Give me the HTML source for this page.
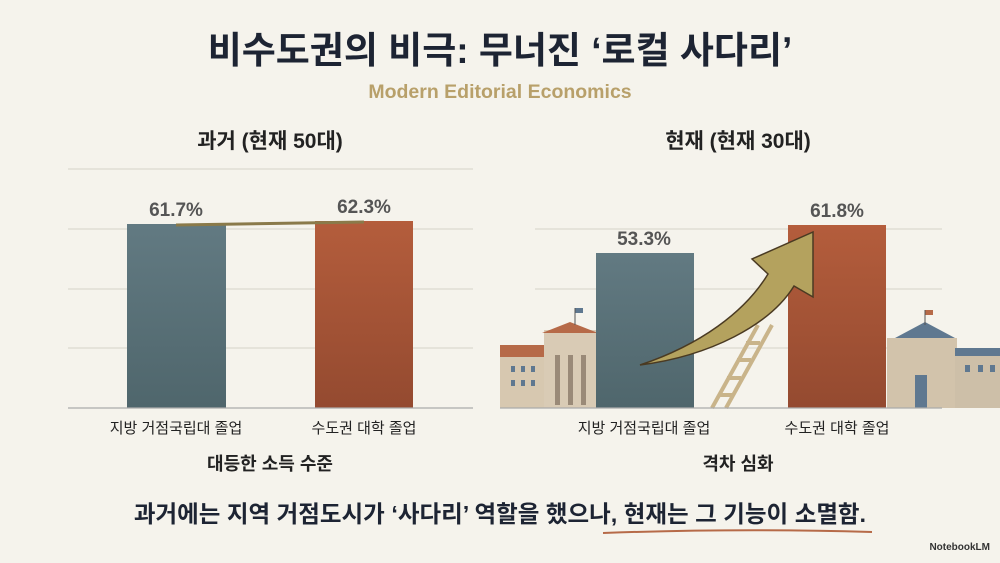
<!DOCTYPE html>
<html><head><meta charset="utf-8"><style>
body{margin:0;width:1000px;height:558px;background:#f5f3ec;font-family:"Liberation Sans","Noto Sans CJK KR",sans-serif;overflow:hidden}
</style></head><body>
<svg width="1000" height="558" viewBox="0 0 1000 558" xmlns="http://www.w3.org/2000/svg" font-family="Liberation Sans, Noto Sans CJK KR, sans-serif">
<defs>
<linearGradient id="b" x1="0" y1="0" x2="0" y2="1"><stop offset="0" stop-color="#627a82"/><stop offset="1" stop-color="#4f666c"/></linearGradient>
<linearGradient id="o" x1="0" y1="0" x2="0" y2="1"><stop offset="0" stop-color="#b45d3c"/><stop offset="1" stop-color="#944a30"/></linearGradient>
</defs>
<text x="500" y="63" text-anchor="middle" font-size="37" font-weight="bold" fill="#1d2433">비수도권의 비극: 무너진 ‘로컬 사다리’</text>
<text x="500" y="98" text-anchor="middle" font-size="19.5" font-weight="bold" fill="#b8a06a">Modern Editorial Economics</text>
<text x="270" y="148" text-anchor="middle" font-size="21" font-weight="bold" fill="#222">과거 (현재 50대)</text>
<text x="738" y="148" text-anchor="middle" font-size="21" font-weight="bold" fill="#222">현재 (현재 30대)</text>
<g stroke="#dcd9d0" stroke-width="1.2">
<line x1="68" y1="169" x2="473" y2="169"/><line x1="68" y1="229" x2="473" y2="229"/><line x1="68" y1="289" x2="473" y2="289"/><line x1="68" y1="348" x2="473" y2="348"/>
<line x1="535" y1="229" x2="942" y2="229"/><line x1="535" y1="289" x2="942" y2="289"/><line x1="535" y1="348" x2="942" y2="348"/>
</g>
<g>
<rect x="500" y="345" width="45" height="63" fill="#d7c8b0"/><rect x="500" y="345" width="45" height="12" fill="#b66a48"/>
<rect x="544" y="330" width="52" height="78" fill="#d9cbb5"/><polygon points="542,333 570,322 598,333" fill="#b66a48"/>
<rect x="555" y="355" width="5" height="50" fill="#9a8a78"/><rect x="568" y="355" width="5" height="50" fill="#9a8a78"/><rect x="581" y="355" width="5" height="50" fill="#9a8a78"/>
<rect x="575" y="308" width="8" height="5" fill="#5f7890"/><line x1="575" y1="308" x2="575" y2="325" stroke="#555"/>
<rect x="511" y="366" width="4" height="6" fill="#5f7890"/><rect x="521" y="366" width="4" height="6" fill="#5f7890"/><rect x="531" y="366" width="4" height="6" fill="#5f7890"/>
<rect x="511" y="380" width="4" height="6" fill="#5f7890"/><rect x="521" y="380" width="4" height="6" fill="#5f7890"/><rect x="531" y="380" width="4" height="6" fill="#5f7890"/>
<rect x="887" y="338" width="70" height="70" fill="#d2c3ab"/><polygon points="895,338 925,322 955,338" fill="#5f7890"/>
<rect x="955" y="348" width="45" height="60" fill="#cdbfa8"/><rect x="955" y="348" width="45" height="8" fill="#5f7890"/>
<rect x="915" y="375" width="12" height="33" fill="#5f7890"/>
<rect x="925" y="310" width="8" height="5" fill="#b66a48"/><line x1="925" y1="310" x2="925" y2="325" stroke="#555"/>
<rect x="965" y="365" width="5" height="7" fill="#5f7890"/><rect x="978" y="365" width="5" height="7" fill="#5f7890"/><rect x="990" y="365" width="5" height="7" fill="#5f7890"/>
</g>
<g stroke="#c9b48a" stroke-width="4" fill="none">
<line x1="712" y1="408" x2="758" y2="325"/><line x1="726" y1="408" x2="772" y2="325"/>
<line x1="718" y1="395" x2="732" y2="395"/><line x1="727" y1="378" x2="741" y2="378"/><line x1="737" y1="360" x2="751" y2="360"/><line x1="746" y1="343" x2="760" y2="343"/>
</g>
<rect x="127" y="224" width="99" height="184" fill="url(#b)"/>
<rect x="315" y="221" width="98" height="187" fill="url(#o)"/>
<rect x="596" y="253" width="98" height="155" fill="url(#b)"/>
<rect x="788" y="225" width="98" height="183" fill="url(#o)"/>
<line x1="68" y1="408" x2="473" y2="408" stroke="#aaa" stroke-width="1.2"/>
<line x1="500" y1="408" x2="942" y2="408" stroke="#aaa" stroke-width="1.2"/>
<line x1="176" y1="225" x2="364" y2="222" stroke="#8a7a4a" stroke-width="3"/>
<path d="M640,365 C700,345 745,312 768,274 L752,259 L813,232 L813,297 L794,286 C770,325 710,356 640,365 Z" fill="#b4a25e" stroke="#4a3a22" stroke-width="1.5"/>
<g font-size="19" font-weight="bold" fill="#555" text-anchor="middle">
<text x="176" y="216">61.7%</text><text x="364" y="213">62.3%</text>
<text x="644" y="245">53.3%</text><text x="837" y="217">61.8%</text>
</g>
<g font-size="15" fill="#222" text-anchor="middle">
<text x="176" y="433">지방 거점국립대 졸업</text><text x="364" y="433">수도권 대학 졸업</text>
<text x="644" y="433">지방 거점국립대 졸업</text><text x="837" y="433">수도권 대학 졸업</text>
</g>
<g font-size="18" font-weight="bold" fill="#222" text-anchor="middle">
<text x="270" y="470">대등한 소득 수준</text><text x="738" y="470">격차 심화</text>
</g>
<text x="500" y="522" text-anchor="middle" font-size="23.5" font-weight="bold" fill="#1d2433">과거에는 지역 거점도시가 ‘사다리’ 역할을 했으나, 현재는 그 기능이 소멸함.</text>
<path d="M603,533 Q740,528 872,532" stroke="#b66a48" stroke-width="2" fill="none"/>
<text x="990" y="550" text-anchor="end" font-size="10" font-weight="bold" fill="#333">NotebookLM</text>
</svg>
</body></html>
